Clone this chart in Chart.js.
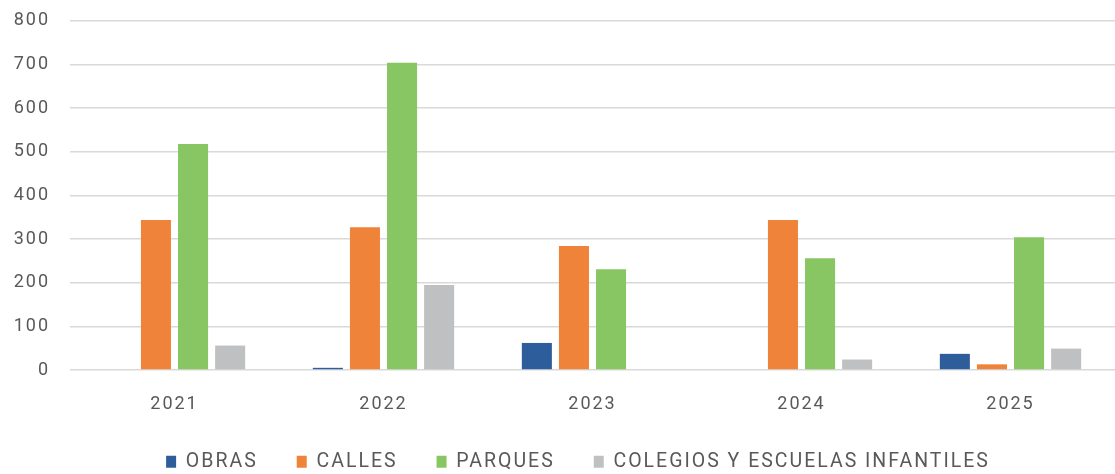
<!DOCTYPE html>
<html>
<head>
<meta charset="utf-8">
<script src="https://cdn.jsdelivr.net/npm/chart.js@4"></script>
<style>
  html, body { margin: 0; padding: 0; background: #fff; }
  #wrap { width: 1115px; height: 474px; position: relative; }
</style>
</head>
<body>
<div id="wrap"><canvas id="chart"></canvas></div>
<script>
// values
const years = ['2021', '2022', '2023', '2024', '2025'];
const obras = [0, 5, 62, 0, 37];
const calles = [344, 327, 284, 344, 13];
const parques = [518, 704, 231, 256, 304];
const colegios = [56, 195, 0, 24, 49];
const yTicks = [0, 100, 200, 300, 400, 500, 600, 700, 800];

const textColor = '#595959';

// the labels in the original are spaced out a bit;
// resizing the canvas resets the context, so set it again each time.
// the legend needs wide gaps between items but not above and below them,
// and sits a little right of the middle
const tweaks = {
  id: 'tweaks',
  afterInit: chart => {
    const legend = chart.legend;
    const fit = legend.fit.bind(legend);
    legend.fit = function () {
      fit();
      this.height = 61;
    };
  },
  afterLayout: chart => {
    chart.legend.left += 14;
    chart.legend.right += 14;
  },
  beforeUpdate: chart => { chart.ctx.letterSpacing = '2px'; },
  beforeDraw: chart => { chart.ctx.letterSpacing = '2px'; },
};

const mkSet = (label, data, color) => ({
  label,
  data,
  backgroundColor: color,
  borderWidth: 0,
  barPercentage: 0.81,
  categoryPercentage: 0.71,
});

new Chart(document.getElementById('chart').getContext('2d'), {
  type: 'bar',
  data: {
    labels: years,
    datasets: [
      mkSet('OBRAS', obras, '#2E5D9B'),
      mkSet('CALLES', calles, '#F0833A'),
      mkSet('PARQUES', parques, '#88C663'),
      mkSet('COLEGIOS Y ESCUELAS INFANTILES', colegios, '#BFC0C1'),
    ],
  },
  plugins: [tweaks],
  options: {
    responsive: true,
    maintainAspectRatio: false,
    animation: false,
    layout: { padding: { left: 13, right: 0, top: 2, bottom: 0 } },
    plugins: {
      tooltip: { enabled: false },
      legend: {
        position: 'bottom',
        labels: {
          color: textColor,
          font: { family: 'Roboto', size: 19.5 },
          boxWidth: 10,
          boxHeight: 12,
          padding: 39,
        },
      },
    },
    scales: {
      x: {
        afterFit: axis => { axis.height = 43; },
        grid: { display: false, drawTicks: false },
        border: { display: false },
        ticks: {
          color: textColor,
          font: { family: 'Roboto', size: 18, lineHeight: 1 },
          padding: 25,
        },
      },
      y: {
        min: 0,
        max: 800,
        afterBuildTicks: axis => { axis.ticks = yTicks.map(v => ({ value: v })); },
        afterFit: axis => { axis.width = 57; },
        grid: { color: '#D9D9D9', lineWidth: 1.5, drawTicks: false },
        border: { display: false },
        ticks: {
          color: textColor,
          font: { family: 'Roboto', size: 18, lineHeight: 0.1 },
          padding: 20,
        },
      },
    },
  },
});
</script>
</body>
</html>
